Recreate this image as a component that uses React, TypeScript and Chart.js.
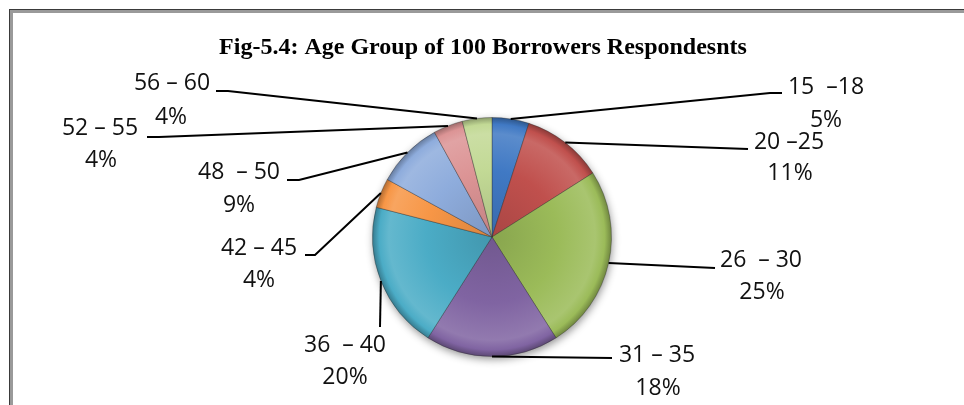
import React, { useEffect, useRef } from "react";
import { Chart, registerables } from "chart.js";

Chart.register(...registerables);

const TITLE = "Fig-5.4: Age Group of 100 Borrowers Respondesnts";
const ageGroups = ["15  –18", "20 –25", "26  – 30", "31 – 35", "36  – 40", "42 – 45", "48  – 50", "52 – 55", "56 – 60"];
const sharePct = [5, 11, 25, 18, 20, 4, 9, 4, 4];
const sliceColors = ["#4079C4", "#C0504D", "#9BBB59", "#8064A2", "#4BACC6", "#F79646", "#8EACDC", "#DC9495", "#C2D995"];

// Label layout: offsets from pie centre [nameX, nameY, pctX, pctY, lineEndX, lineEndY, elbowX|null, elbowY|null]
const labelLayout: (number | null)[][] = [
  [334, -150, 334, -117, 290, -144, 278, -144],
  [297, -95, 298, -64, 256, -88, null, null],
  [269, 23, 270, 55, 223, 31, null, null],
  [165, 118, 166, 151, 120, 121, null, null],
  [-147, 108, -147, 140, -112, 90, null, null],
  [-233, 11, -233, 43, -187, 18, -177, 18],
  [-253, -65, -253, -32, -205, -57, -193, -57],
  [-392, -109, -391, -77, -345, -100, -333, -100],
  [-320, -154, -321, -120, -276, -146, -264, -146],
];

function hexToRgb(h: string) {
  const n = parseInt(h.slice(1), 16);
  return [(n >> 16) & 255, (n >> 8) & 255, n & 255];
}
function mix(h: string, target: number, t: number) {
  const [r, g, b] = hexToRgb(h);
  const f = (c: number) => Math.round(c + (target - c) * t);
  return `rgb(${f(r)},${f(g)},${f(b)})`;
}

const framePlugin = {
  id: "frame",
  beforeDraw(chart: any) {
    const ctx = chart.ctx;
    ctx.save();
    ctx.fillStyle = "#ffffff";
    ctx.fillRect(0, 0, chart.width, chart.height);
    ctx.fillStyle = "#9a9a9a";
    ctx.fillRect(10, 10, chart.width - 10, 3);
    ctx.fillRect(10, 10, 3, chart.height - 10);
    ctx.fillStyle = "#3a3a3a";
    ctx.fillRect(9, 9, chart.width - 9, 1);
    ctx.fillRect(9, 9, 1, chart.height - 9);
    ctx.restore();
  },
  afterDraw(chart: any) {
    const ctx = chart.ctx;
    ctx.save();
    ctx.fillStyle = "#000";
    ctx.font = "bold 24px 'Liberation Serif', 'Times New Roman', serif";
    ctx.textAlign = "center";
    ctx.textBaseline = "middle";
    ctx.fillText(TITLE, 483, 48);
    ctx.restore();
  },
};

const shadowPlugin = {
  id: "pieShadow",
  beforeDatasetsDraw(chart: any) {
    const a = chart.chartArea;
    const cx = (a.left + a.right) / 2;
    const cy = (a.top + a.bottom) / 2;
    const r = Math.min(a.right - a.left, a.bottom - a.top) / 2;
    const ctx = chart.ctx;
    ctx.save();
    ctx.shadowColor = "rgba(0,0,0,0.45)";
    ctx.shadowBlur = 9;
    ctx.shadowOffsetX = 1;
    ctx.shadowOffsetY = 3;
    ctx.fillStyle = "#888";
    ctx.beginPath();
    ctx.arc(cx, cy, r - 1, 0, Math.PI * 2);
    ctx.fill();
    ctx.restore();
  },
};

const labelPlugin = {
  id: "outLabels",
  afterDatasetsDraw(chart: any) {
    const meta = chart.getDatasetMeta(0);
    const ctx = chart.ctx;
    ctx.save();
    meta.data.forEach((arc: any, i: number) => {
      const p = arc.getProps(["x", "y", "startAngle", "endAngle", "outerRadius"], true);
      const mid = (p.startAngle + p.endAngle) / 2;
      const ex = p.x + Math.cos(mid) * p.outerRadius;
      const ey = p.y + Math.sin(mid) * p.outerRadius;
      const L = labelLayout[i];
      ctx.strokeStyle = "#000";
      ctx.lineWidth = 2;
      ctx.beginPath();
      ctx.moveTo(ex, ey);
      if (L[6] !== null) ctx.lineTo(p.x + (L[6] as number), p.y + (L[7] as number));
      ctx.lineTo(p.x + (L[4] as number), p.y + (L[5] as number));
      ctx.stroke();
      ctx.fillStyle = "#111";
      ctx.font = "23px 'Open Sans', 'Noto Sans', sans-serif";
      ctx.textAlign = "center";
      ctx.textBaseline = "middle";
      ctx.fillText(chart.data.labels[i], p.x + (L[0] as number), p.y + (L[1] as number));
      ctx.fillText(chart.data.datasets[0].data[i] + "%", p.x + (L[2] as number), p.y + (L[3] as number));
    });
    ctx.restore();
  },
};

export default function App() {
  const ref = useRef<HTMLCanvasElement | null>(null);
  useEffect(() => {
    document.body.style.margin = "0";
    const canvas = ref.current!;
    const chart = new Chart(canvas, {
      type: "pie",
      data: {
        labels: ageGroups,
        datasets: [
          {
            data: sharePct,
            backgroundColor: (c: any) => {
              const base = sliceColors[c.dataIndex];
              const a = c.chart.chartArea;
              if (!a) return base;
              const cx = (a.left + a.right) / 2;
              const cy = (a.top + a.bottom) / 2;
              const r = Math.min(a.right - a.left, a.bottom - a.top) / 2;
              const g = c.chart.ctx.createRadialGradient(cx, cy, 0, cx, cy, r);
              g.addColorStop(0, mix(base, 0, 0.12));
              g.addColorStop(0.55, base);
              g.addColorStop(0.86, mix(base, 255, 0.14));
              g.addColorStop(0.94, base);
              g.addColorStop(1, mix(base, 0, 0.3));
              return g;
            },
            borderColor: "rgba(40,40,40,0.35)",
            borderWidth: 1,
          },
        ],
      },
      options: {
        animation: false,
        responsive: false,
        maintainAspectRatio: false,
        devicePixelRatio: 1,
        layout: { padding: { left: 372, right: 352, top: 117, bottom: 48 } },
        plugins: {
          legend: { display: false },
          title: { display: false },
          tooltip: { enabled: false },
        },
      },
      plugins: [framePlugin, shadowPlugin, labelPlugin],
    });
    return () => chart.destroy();
  }, []);
  return <canvas ref={ref} width={964} height={405} style={{ display: "block" }} />;
}
